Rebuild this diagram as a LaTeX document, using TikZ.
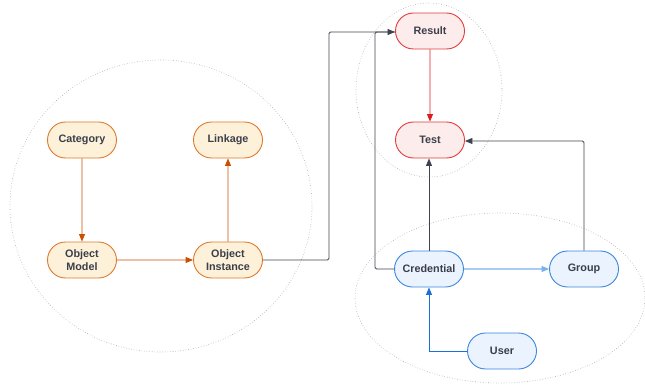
\documentclass[tikz,border=0pt]{standalone}
\usepackage{fontspec}
\setmainfont{Liberation Sans}
\usetikzlibrary{shapes.misc,arrows.meta}
\definecolor{txt}{HTML}{3A3F4A}
\definecolor{ofill}{HTML}{FEF1DA}
\definecolor{oline}{HTML}{DD7A2C}
\definecolor{oarrow}{HTML}{CC4E00}
\definecolor{rfill}{HTML}{FDECEC}
\definecolor{rline}{HTML}{E53A3A}
\definecolor{rarrow}{HTML}{E01B1B}
\definecolor{bfill}{HTML}{EAF3FE}
\definecolor{bline}{HTML}{3B86E0}
\definecolor{barrow}{HTML}{1C6FDB}
\definecolor{blight}{HTML}{7AB0EE}
\definecolor{conn}{HTML}{3D4450}
\definecolor{ring}{HTML}{A8A8A8}
\tikzset{
  x=1pt,y=-1pt,
  box/.style={rounded rectangle, minimum width=73pt, minimum height=36pt, inner sep=2pt,
    line width=0.9pt, text=txt, align=center,
    font=\fontsize{10.8}{12.8}\selectfont\bfseries},
  obox/.style={box, draw=oline, fill=ofill},
  rbox/.style={box, draw=rline, fill=rfill},
  bbox/.style={box, draw=bline, fill=bfill},
  tip/.style={-{Triangle[length=7.5pt,width=6pt]}},
  oarr/.style={tip, draw=oarrow, line width=0.9pt},
  rarr/.style={tip, draw=rarrow, line width=0.9pt},
  barr/.style={tip, draw=barrow, line width=0.9pt},
  garr/.style={tip, draw=conn, line width=0.8pt, rounded corners=1.5pt},
  garrnotip/.style={draw=conn, line width=0.8pt, rounded corners=1.5pt},
  ringstyle/.style={draw=ring, dotted, line width=0.6pt},
}
\begin{document}
\begin{tikzpicture}
\useasboundingbox (0,0) rectangle (645,385);
% groups
\draw[ringstyle] (161,206) ellipse [x radius=151, y radius=146];
\draw[ringstyle] (429,90) ellipse [x radius=73, y radius=87];
\draw[ringstyle] (500,298) ellipse [x radius=145, y radius=85];
% nodes
\node[obox] (cat) at (82,140) {Category};
\node[obox] (link) at (228,140) {Linkage};
\node[obox] (om) at (82,260) {Object\\Model};
\node[obox] (oi) at (228,260) {Object\\Instance};
\node[rbox] (res) at (430,31) {Result};
\node[rbox] (test) at (430,140) {Test};
\node[bbox] (cred) at (429,269) {Credential};
\node[bbox] (grp) at (584,269) {Group};
\node[bbox] (user) at (502,351) {User};
% connectors
\draw[oarr] (cat) -- (om);
\draw[oarr] (om) -- (oi);
\draw[oarr] (oi) -- (link);
\draw[rarr] (res) -- (test);
\coordinate (j1) at (329,260);
\coordinate (j2) at (329,32);
\draw[garr] (oi.east) -- (j1) -- (j2) -- (res.west |- j2);
\coordinate (k1) at (375,269);
\coordinate (k2) at (375,32);
\draw[garrnotip] (cred.west) -- (k1) -- (k2) -- (res.west |- k2);
\draw[garr] (cred.north) -- (test.south -| cred.north);
\coordinate (g1) at (584,141);
\draw[garr] (grp.north) -- (g1) -- (test.east |- g1);
\coordinate (u1) at (429,351);
\draw[barr] (user.west) -- (u1) -- (cred.south);
\draw[tip, draw=blight, line width=1.1pt] (cred) -- (grp);
\end{tikzpicture}
\end{document}
